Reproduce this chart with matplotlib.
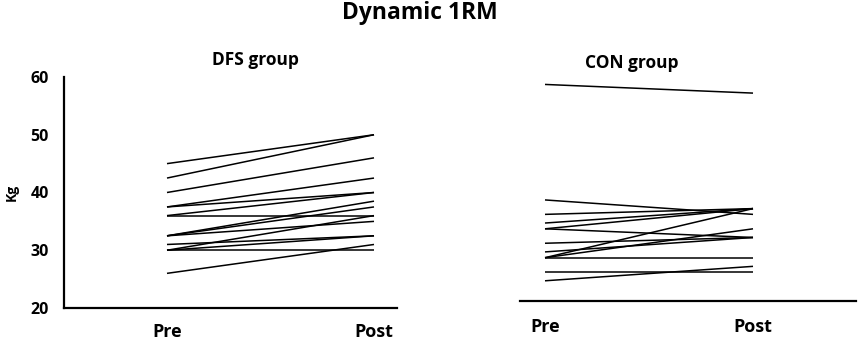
import matplotlib
matplotlib.use("Agg")
import matplotlib.pyplot as plt

plt.rcParams['font.family'] = ['Open Sans', 'DejaVu Sans']

time_labels = ["Pre", "Post"]
yticks_left = [20, 30, 40, 50, 60]

dfs_pre = [45, 42.5, 40, 37.5, 37.5, 36, 36, 32.5, 32.5, 32.5, 31, 30, 30, 30, 26]
dfs_post = [50, 50, 46, 42.5, 40, 40, 36, 38.5, 37.5, 35, 32.5, 36, 32.5, 30, 31]

con_pre = [57.5, 37.5, 35, 33.5, 32.5, 32.5, 30, 28.5, 27.5, 27.5, 27.5, 25, 23.5]
con_post = [56, 35, 36, 36, 36, 31, 31, 31, 36, 32.5, 27.5, 25, 26]

W, H = 858, 341
fig = plt.figure(figsize=(W / 100, H / 100), dpi=100)

def fx(px):
    return px / W

def fy(py):
    return 1 - py / H

# Left panel
axL = fig.add_axes([fx(64), fy(308), fx(397 - 64), fy(77) - fy(308)])
xs = [0, 1]
for a, b in zip(dfs_pre, dfs_post):
    axL.plot(xs, [a, b], color='black', lw=1.1, solid_capstyle='butt')
axL.set_xlim(-103 / 207, 1 + 23 / 207)
axL.set_ylim(20, 60)
axL.set_yticks(yticks_left)
axL.set_yticklabels([str(v) for v in yticks_left], fontsize=11.5, fontweight='bold')
axL.set_xticks(xs)
axL.set_xticklabels(time_labels, fontsize=13, fontweight='bold')
axL.tick_params(axis='both', length=0)
axL.tick_params(axis='y', pad=11)
axL.tick_params(axis='x', pad=11)
for s in ['top', 'right']:
    axL.spines[s].set_visible(False)
for s in ['left', 'bottom']:
    axL.spines[s].set_linewidth(1.6)
axL.set_ylabel("Kg", fontsize=10, fontweight='bold', labelpad=8)
axL.text((255 - 64) / 333, 1.035, "DFS group", transform=axL.transAxes,
         ha='center', va='bottom', fontsize=12.5, fontweight='bold')

# Right panel
px_per_kg = 231 / 40
top_val = 20 + (301 - 60) / px_per_kg
axR = fig.add_axes([fx(520), fy(301), fx(856 - 520), fy(60) - fy(301)])
for a, b in zip(con_pre, con_post):
    axR.plot(xs, [a, b], color='black', lw=1.1, solid_capstyle='butt')
axR.set_xlim(-25 / 208, 1 + 103 / 208)
axR.set_ylim(20, top_val)
axR.set_yticks([])
axR.set_xticks(xs)
axR.set_xticklabels(time_labels, fontsize=13, fontweight='bold')
axR.tick_params(axis='x', length=0, pad=12)
for s in ['top', 'right', 'left']:
    axR.spines[s].set_visible(False)
axR.spines['bottom'].set_linewidth(1.6)
fig.text(fx(632), fy(63), "CON group", ha='center', va='center',
         fontsize=12.5, fontweight='bold')

fig.text(fx(420), fy(13), "Dynamic 1RM", ha='center', va='center',
         fontsize=16.5, fontweight='bold')

fig.savefig("out.png", dpi=100)
